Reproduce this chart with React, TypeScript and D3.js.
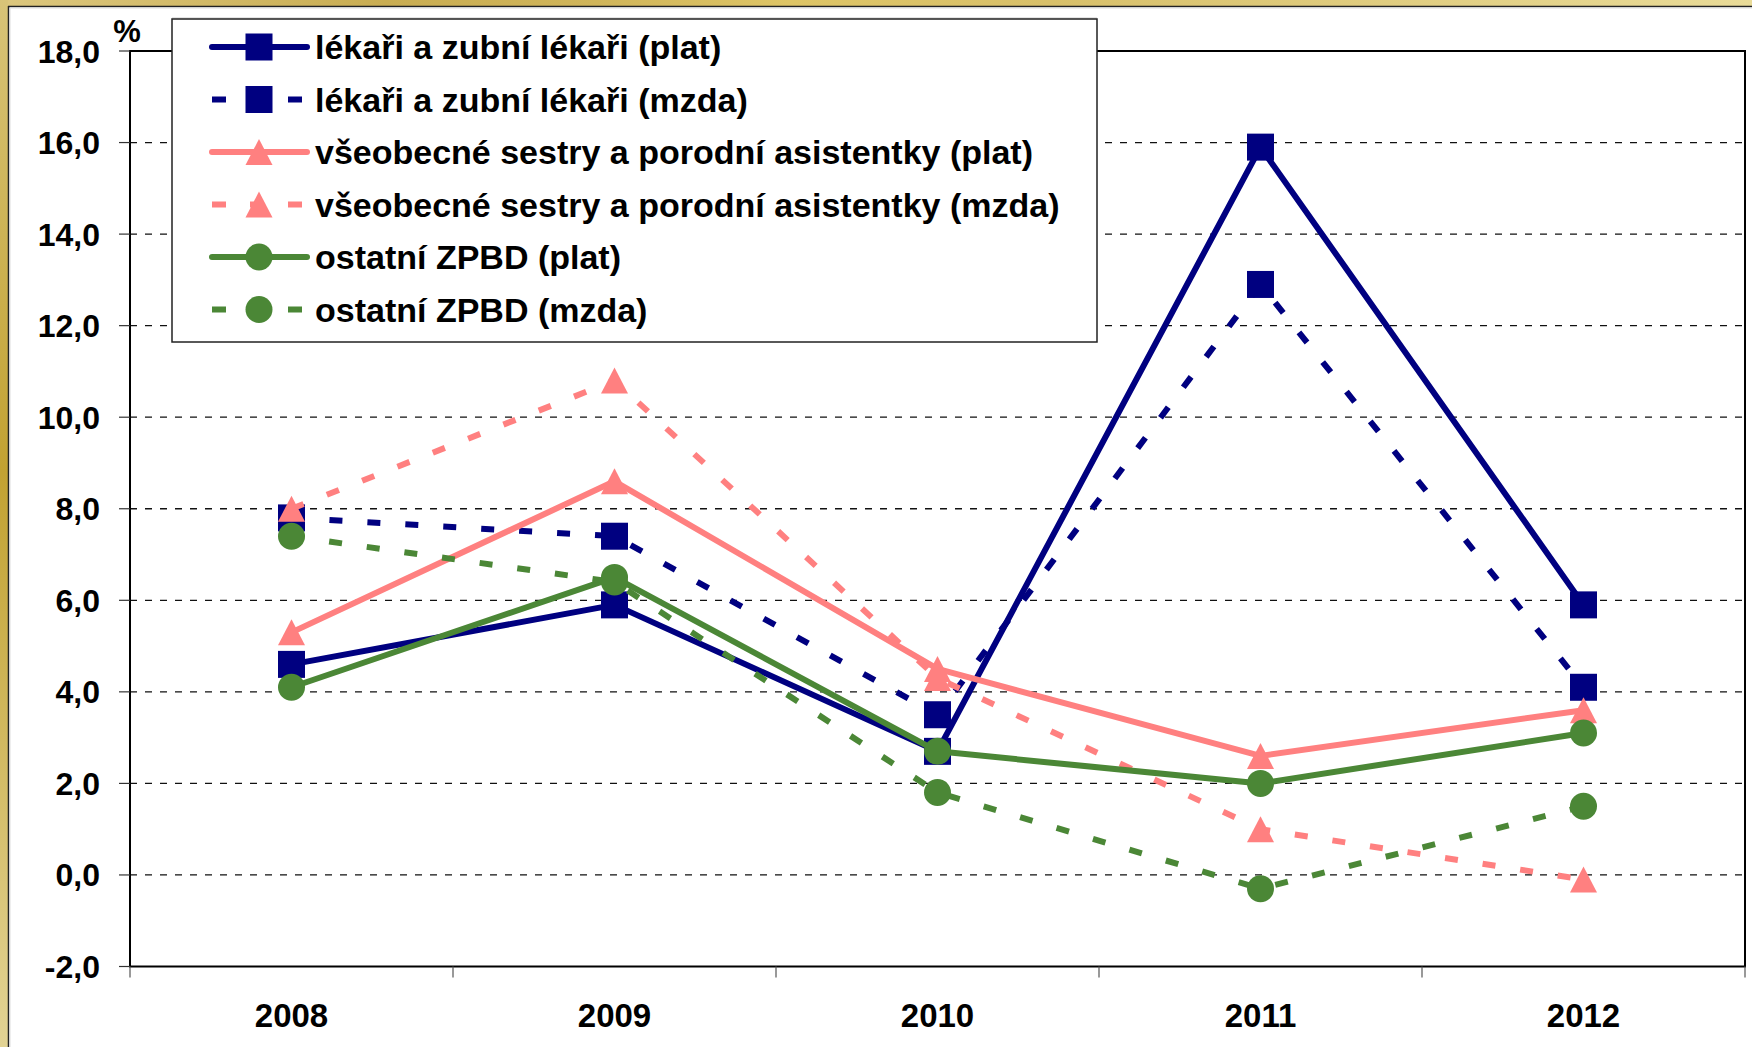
import React from "react";
import * as d3 from "d3";

const years = ["2008", "2009", "2010", "2011", "2012"];
const lekariPlat = [4.6, 5.9, 2.7, 15.9, 5.9];
const lekariMzda = [7.8, 7.4, 3.5, 12.9, 4.1];
const sestryPlat = [5.3, 8.6, 4.5, 2.6, 3.6];
const sestryMzda = [8.0, 10.8, 4.3, 1.0, -0.1];
const ostatniPlat = [4.1, 6.5, 2.7, 2.0, 3.1];
const ostatniMzda = [7.4, 6.4, 1.8, -0.3, 1.5];
const yTicks = [-2, 0, 2, 4, 6, 8, 10, 12, 14, 16, 18];

const NAVY = "#000080";
const PINK = "#FF8080";
const GREEN = "#4B8736";

const series = [
  { name: "lékaři a zubní lékaři (plat)", values: lekariPlat, color: NAVY, dashed: false, marker: "square" },
  { name: "lékaři a zubní lékaři (mzda)", values: lekariMzda, color: NAVY, dashed: true, marker: "square" },
  { name: "všeobecné sestry a porodní asistentky (plat)", values: sestryPlat, color: PINK, dashed: false, marker: "triangle" },
  { name: "všeobecné sestry a porodní asistentky (mzda)", values: sestryMzda, color: PINK, dashed: true, marker: "triangle" },
  { name: "ostatní ZPBD (plat)", values: ostatniPlat, color: GREEN, dashed: false, marker: "circle" },
  { name: "ostatní ZPBD (mzda)", values: ostatniMzda, color: GREEN, dashed: true, marker: "circle" },
];

const W = 1752;
const H = 1047;
const FONT = "'Liberation Sans', Arial, sans-serif";

function Marker({ type, x, y, color }: { type: string; x: number; y: number; color: string }) {
  const s = 27;
  if (type === "square") {
    return <rect x={x - s / 2} y={y - s / 2} width={s} height={s} fill={color} />;
  }
  if (type === "circle") {
    return <circle cx={x} cy={y} r={s / 2} fill={color} />;
  }
  const h = 26;
  return (
    <path
      d={`M${x},${y - h / 2} L${x + s / 2},${y + h / 2} L${x - s / 2},${y + h / 2} Z`}
      fill={color}
    />
  );
}

export default function App() {
  const x = d3.scaleBand<string>().domain(years).range([130, 1745]).paddingInner(0).paddingOuter(0);
  const y = d3.scaleLinear().domain([-2, 18]).range([966.5, 51]);
  const fmt = (v: number) => d3.format(".1f")(v).replace(".", ",").replace("−", "-");
  const cx = (i: number) => (x(years[i]) as number) + x.bandwidth() / 2;
  const line = d3
    .line<number>()
    .x((_, i) => cx(i))
    .y((d) => y(d));

  const [x0, x1] = x.range();
  const [yb, yt] = y.range();
  const boundaries = years.map((yr) => x(yr) as number).concat([x1]);

  const legX = 172;
  const legY = 19;
  const legW = 925;
  const legH = 323;
  const rowY = (i: number) => 47 + i * 52.5;

  return (
    <svg width={W} height={H} style={{ display: "block", position: "absolute", left: 0, top: 0 }}>
      <style>{`body{margin:0}`}</style>
      <defs>
        <linearGradient id="goldTop" x1="0" y1="0" x2="1" y2="0">
          <stop offset="0" stopColor="#DCC77E" />
          <stop offset="0.22" stopColor="#C9AD52" />
          <stop offset="0.34" stopColor="#D0B55A" />
          <stop offset="0.45" stopColor="#DEC566" />
          <stop offset="0.6" stopColor="#D8C06A" />
          <stop offset="1" stopColor="#E9DB98" />
        </linearGradient>
        <linearGradient id="goldLeft" x1="0" y1="0" x2="0" y2="1">
          <stop offset="0" stopColor="#D8C478" />
          <stop offset="0.45" stopColor="#C2A232" />
          <stop offset="1" stopColor="#E2D394" />
        </linearGradient>
      </defs>
      <rect x={0} y={0} width={W} height={H} fill="#ffffff" />
      <rect x={0} y={0} width={W} height={6} fill="url(#goldTop)" />
      <rect x={0} y={0} width={8} height={H} fill="url(#goldLeft)" />
      <line x1={8} y1={6.5} x2={W} y2={6.5} stroke="#222" strokeWidth={1.5} />
      <line x1={8.5} y1={6} x2={8.5} y2={H} stroke="#222" strokeWidth={1.5} />
      <line x1={10} y1={8} x2={W} y2={8} stroke="#ddd" strokeWidth={1} />
      <line x1={10} y1={8} x2={10} y2={H} stroke="#ddd" strokeWidth={1} />

      {/* gridlines */}
      {yTicks
        .filter((t) => t !== -2 && t !== 18)
        .map((t) => (
          <line key={"g" + t} x1={x0} x2={x1} y1={y(t)} y2={y(t)} stroke="#111" strokeWidth={1.3} strokeDasharray="7,8" />
        ))}

      {/* plot frame */}
      <rect x={x0} y={yt} width={x1 - x0} height={yb - yt} fill="none" stroke="#000" strokeWidth={2} />

      {/* y ticks + labels */}
      {yTicks.map((t) => (
        <g key={"y" + t}>
          <line x1={x0 - 11} x2={x0} y1={y(t)} y2={y(t)} stroke="#333" strokeWidth={1.2} />
          <text x={100} y={y(t)} dy="0.36em" textAnchor="end" fontFamily={FONT} fontWeight="bold" fontSize={32} fill="#000">
            {fmt(t)}
          </text>
        </g>
      ))}
      <text x={127} y={42} textAnchor="middle" fontFamily={FONT} fontWeight="bold" fontSize={31} fill="#000">
        %
      </text>

      {/* x ticks + labels */}
      {boundaries.map((b, i) => (
        <line key={"xt" + i} x1={b} x2={b} y1={yb} y2={yb + 11} stroke="#555" strokeWidth={1.2} />
      ))}
      {years.map((yr, i) => (
        <text key={"xl" + yr} x={cx(i)} y={1027} textAnchor="middle" fontFamily={FONT} fontWeight="bold" fontSize={33} fill="#000">
          {yr}
        </text>
      ))}

      {/* series */}
      {series.map((s, si) => (
        <g key={"s" + si}>
          <path
            d={line(s.values) as string}
            fill="none"
            stroke={s.color}
            strokeWidth={6}
            strokeDasharray={s.dashed ? "13,25" : undefined}
            strokeLinejoin="round"
          />
          {s.values.map((v, i) => (
            <Marker key={i} type={s.marker} x={cx(i)} y={y(v)} color={s.color} />
          ))}
        </g>
      ))}

      {/* legend */}
      <rect x={legX} y={legY - 1.5} width={legW} height={1} fill="#ccc" />
      <rect x={legX} y={legY} width={legW} height={legH} fill="#fff" stroke="#222" strokeWidth={1.5} />
      {series.map((s, i) => (
        <g key={"l" + i}>
          <line
            x1={212}
            x2={307}
            y1={rowY(i)}
            y2={rowY(i)}
            stroke={s.color}
            strokeWidth={6}
            strokeDasharray={s.dashed ? "14,24" : undefined}
            strokeLinecap={s.dashed ? "butt" : "round"}
          />
          <Marker type={s.marker} x={259} y={rowY(i)} color={s.color} />
          <text x={315} y={rowY(i)} dy="0.36em" fontFamily={FONT} fontWeight="bold" fontSize={34} fill="#000">
            {s.name}
          </text>
        </g>
      ))}
    </svg>
  );
}
